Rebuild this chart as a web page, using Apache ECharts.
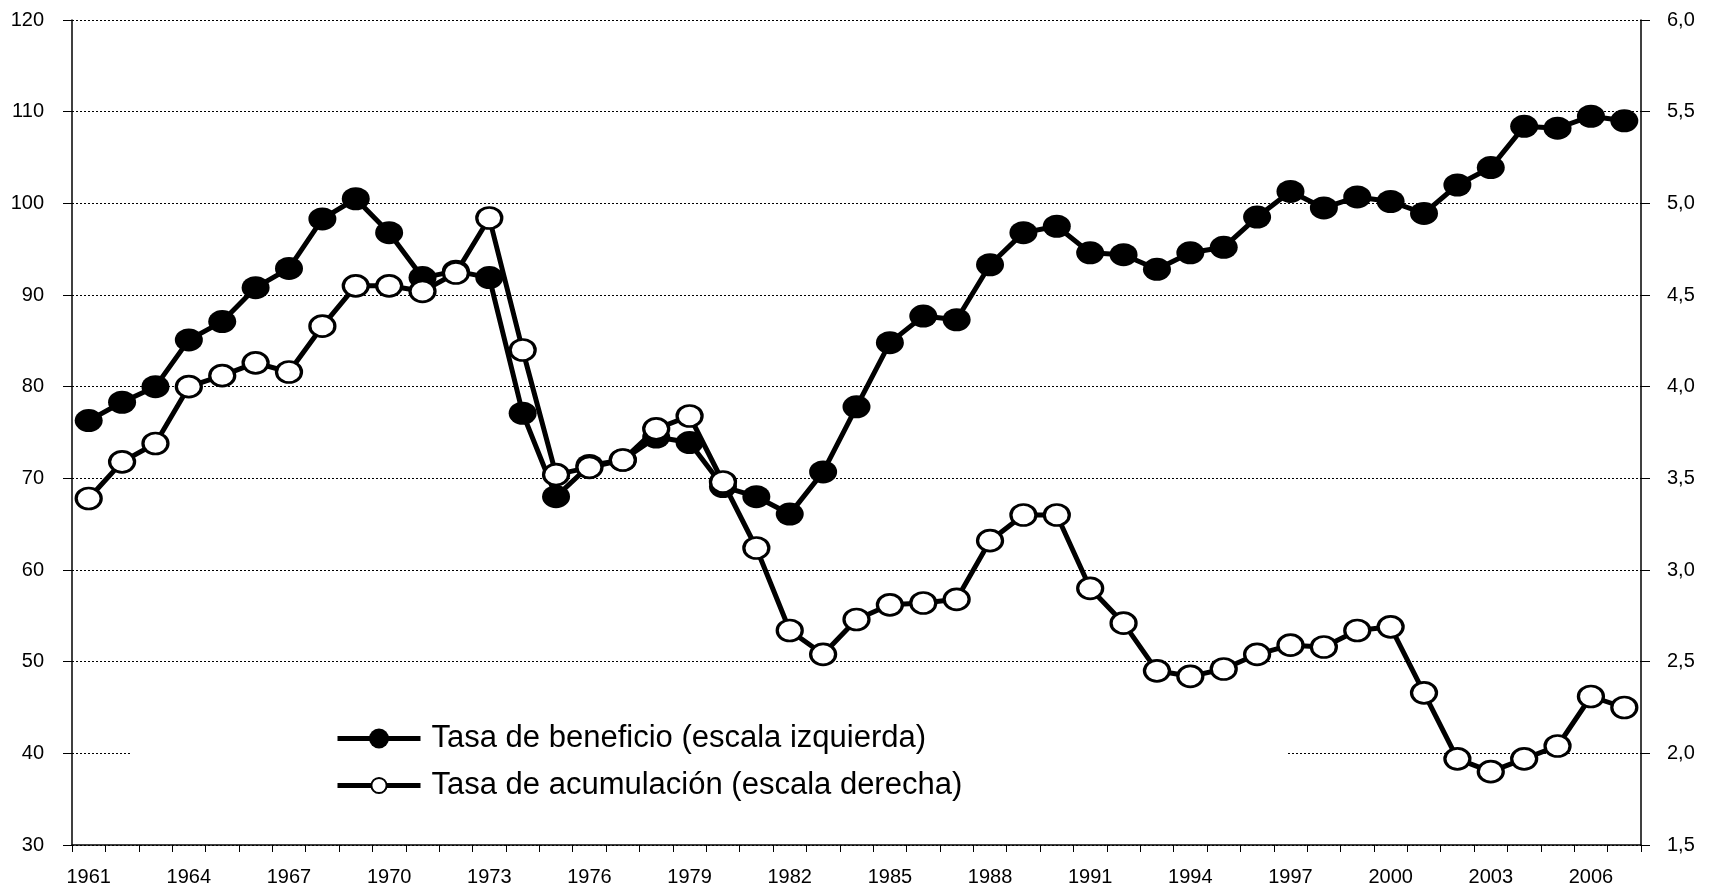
<!DOCTYPE html>
<html>
<head>
<meta charset="utf-8">
<script src="https://cdn.jsdelivr.net/npm/echarts@6/dist/echarts.min.js"></script>
<style>html,body{margin:0;padding:0;background:#fff}#c{width:1713px;height:890px}</style>
</head>
<body>
<div id="c"></div>
<script>
const years = [];
for (let y = 1961; y <= 2007; y++) years.push(String(y));

const beneficioName = 'Tasa de beneficio (escala izquierda)';
const acumulacionName = 'Tasa de acumulación (escala derecha)';

const beneficio = [
  76.3, 78.3, 80.0, 85.1, 87.1, 90.8, 92.9, 98.3, 100.5, 96.8,
  91.9, 92.6, 91.9, 77.1, 68.0, 71.4, 72.0, 74.5, 73.9, 69.1,
  68.0, 66.1, 70.7, 77.8, 84.8, 87.7, 87.3, 93.3, 96.8, 97.5,
  94.6, 94.4, 92.8, 94.6, 95.2, 98.5, 101.3, 99.5, 100.7, 100.2,
  98.9, 102.0, 103.9, 108.4, 108.2, 109.5, 109.0
];

const acumulacion = [
  3.39, 3.59, 3.69, 4.00, 4.06, 4.13, 4.08, 4.33, 4.55, 4.55,
  4.52, 4.62, 4.92, 4.20, 3.52, 3.56, 3.60, 3.77, 3.84, 3.48,
  3.12, 2.67, 2.54, 2.73, 2.81, 2.82, 2.84, 3.16, 3.30, 3.30,
  2.90, 2.71, 2.45, 2.42, 2.46, 2.54, 2.59, 2.58, 2.67, 2.69,
  2.33, 1.97, 1.90, 1.97, 2.04, 2.31, 2.25
];

const chart = echarts.init(document.getElementById('c'), null, {renderer: 'canvas'});
const font = '"Liberation Sans", Arial, sans-serif';

chart.setOption({
  animation: false,
  backgroundColor: '#fff',
  grid: {left: 72, right: 72, top: 20, bottom: 45, containLabel: false},
  graphic: [{
    type: 'rect', z: 1, silent: true,
    shape: {x: 131, y: 706, width: 1155, height: 100},
    style: {fill: '#fff'}
  }],
  legend: [{
    data: [beneficioName],
    left: 330, top: 718,
    itemWidth: 83, itemHeight: 25,
    lineStyle: {width: 5},
    textStyle: {fontFamily: font, fontSize: 31, color: '#000', padding: [0, 0, 0, 6]},
    inactiveColor: '#000'
  }, {
    data: [acumulacionName],
    left: 330, top: 765,
    itemWidth: 83, itemHeight: 19,
    lineStyle: {width: 5},
    textStyle: {fontFamily: font, fontSize: 31, color: '#000', padding: [0, 0, 0, 6]},
    inactiveColor: '#000'
  }],
  xAxis: {
    type: 'category',
    data: years,
    boundaryGap: true,
    axisLine: {lineStyle: {color: '#000', width: 1.5}},
    axisTick: {show: true, interval: 0, length: 7, lineStyle: {color: '#000', width: 1}},
    axisLabel: {interval: 2, margin: 22, fontFamily: font, fontSize: 20, color: '#000'},
    splitLine: {show: false}
  },
  yAxis: [{
    type: 'value', min: 30, max: 120, interval: 10, position: 'left',
    axisLine: {show: true, lineStyle: {color: '#000', width: 1.5}},
    axisTick: {show: true, length: 9, lineStyle: {color: '#000'}},
    axisLabel: {margin: 28, fontFamily: font, fontSize: 20, color: '#000'},
    splitLine: {show: true, lineStyle: {color: '#000', width: 1, type: [2, 2]}}
  }, {
    type: 'value', min: 1.5, max: 6, interval: 0.5, position: 'right',
    axisLine: {show: true, lineStyle: {color: '#000', width: 1.5}},
    axisTick: {show: true, length: 9, lineStyle: {color: '#000'}},
    axisLabel: {margin: 26, fontFamily: font, fontSize: 20, color: '#000',
      formatter: v => v.toFixed(1).replace('.', ',')},
    splitLine: {show: false}
  }],
  series: [{
    name: beneficioName,
    type: 'line',
    yAxisIndex: 0,
    data: beneficio,
    symbol: 'circle',
    showSymbol: true,
    showAllSymbol: true,
    symbolSize: [28, 23],
    lineStyle: {color: '#000', width: 5},
    itemStyle: {color: '#000', borderColor: '#000', borderWidth: 0},
    emphasis: {disabled: true},
    z: 3
  }, {
    name: acumulacionName,
    type: 'line',
    yAxisIndex: 1,
    data: acumulacion,
    symbol: 'circle',
    showSymbol: true,
    showAllSymbol: true,
    symbolSize: [25, 21],
    lineStyle: {color: '#000', width: 5},
    itemStyle: {color: '#fff', borderColor: '#000', borderWidth: 3},
    emphasis: {disabled: true},
    z: 4
  }]
});
</script>
</body>
</html>
